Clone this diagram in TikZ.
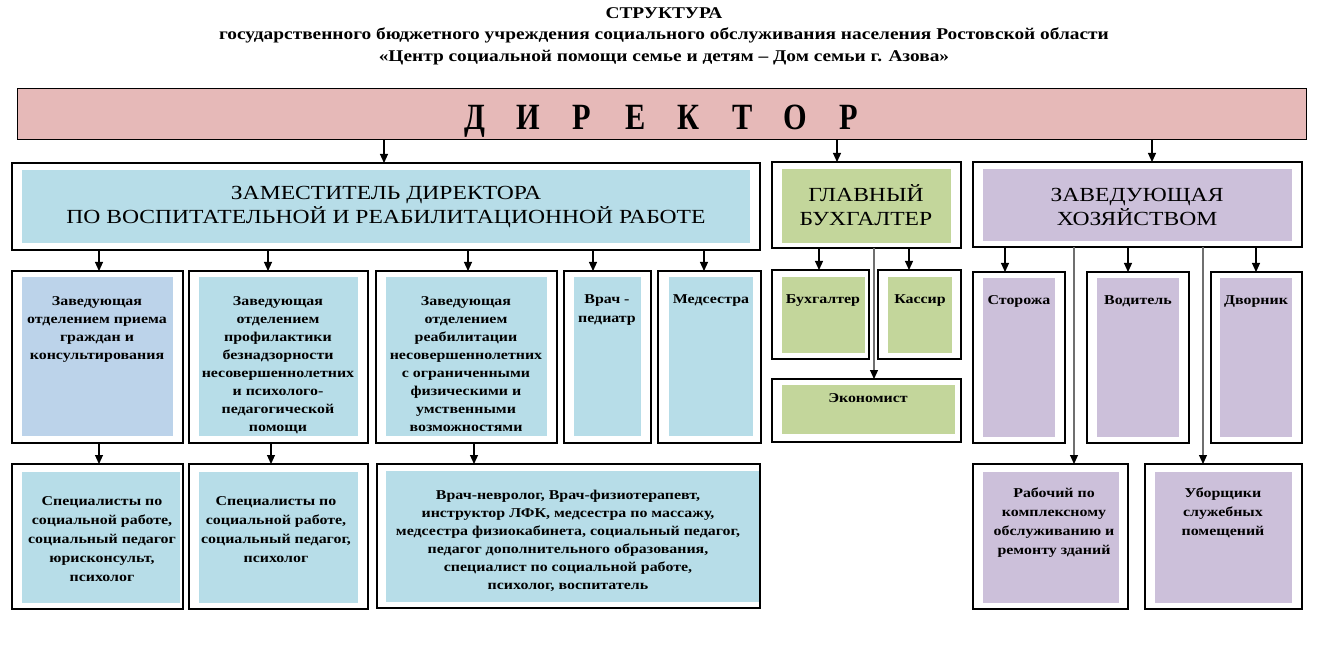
\documentclass[tikz,border=0pt]{standalone}
\usepackage{fontspec}
\setmainfont[FakeStretch=1.18]{Liberation Serif}
\newfontfamily\condfont[FakeStretch=0.82]{Liberation Serif}
\usetikzlibrary{arrows.meta}
\definecolor{pinkf}{HTML}{E6B9B8}
\definecolor{bluef}{HTML}{B7DDE8}
\definecolor{bluetwo}{HTML}{BCD3EA}
\definecolor{greenf}{HTML}{C3D69B}
\definecolor{purpf}{HTML}{CCC0DA}
\definecolor{linegray}{HTML}{6F6F6F}
\newcommand\outbox[5]{\node[obox,minimum width={#4-#2},minimum height={#5-#3}] (#1) at (#2,#3) {};}
\newcommand\inbox[6]{\node[ibox,fill=#6,minimum width={#4-#2},minimum height={#5-#3}] (#1) at (#2,#3) {};}
\begin{document}
\begin{tikzpicture}[x=1pt,y=-1pt,
  obox/.style={draw=black,fill=white,line width=1.1pt,anchor=north west,inner sep=0pt,outer sep=0pt},
  ibox/.style={draw=none,anchor=north west,inner sep=0pt,outer sep=0pt},
  txt/.style={align=center,inner sep=0pt,anchor=north,font=\bfseries\fontsize{13.5}{18}\selectfont},
  txtw/.style={align=center,inner sep=0pt,anchor=north,font=\bfseries\fontsize{13.5}{19}\selectfont},
  bigtxt/.style={align=center,inner sep=0pt,font=\fontsize{20}{24.5}\selectfont},
  arr/.style={line width=1.1pt,-{Triangle[width=8pt,length=9pt]}},
  garr/.style={line width=1.1pt,draw=linegray,-{Triangle[width=8pt,length=9pt,color=black,fill=black]}}]
\useasboundingbox (0,0) rectangle (1319,668);
\fill[white] (0,0) rectangle (1319,668);

% title
\node[font=\bfseries\fontsize{16.4}{21.5}\selectfont,align=center,anchor=north,inner sep=0pt] (title) at (664,7)
  {СТРУКТУРА\\государственного бюджетного учреждения социального обслуживания населения Ростовской области\\«Центр социальной помощи семье и детям – Дом семьи г. Азова»};

% director
\node[draw=black,fill=pinkf,line width=1.1pt,anchor=north west,inner sep=0pt,minimum width=1289,minimum height=51] (dir) at (17,88) {};
\node[font=\condfont\bfseries\fontsize{37}{40}\selectfont,inner sep=0pt,anchor=base] (dirt) at (662,130)
  {\makebox[53.5pt]{Д}\makebox[53.5pt]{И}\makebox[53.5pt]{Р}\makebox[53.5pt]{Е}\makebox[53.5pt]{К}\makebox[53.5pt]{Т}\makebox[53.5pt]{О}\makebox[53.5pt]{Р}};

% deputy
\outbox{dep}{12}{163}{760}{250}
\inbox{depi}{22}{170}{750}{243}{bluef}
\node[bigtxt] (dept) at (386,207) {ЗАМЕСТИТЕЛЬ ДИРЕКТОРА\\ПО ВОСПИТАТЕЛЬНОЙ И РЕАБИЛИТАЦИОННОЙ РАБОТЕ};

% chief accountant
\outbox{gb}{772}{162}{961}{248}
\inbox{gbi}{782}{169}{951}{243}{greenf}
\node[bigtxt] (gbt) at (866,205) {ГЛАВНЫЙ\\БУХГАЛТЕР};

% household head
\outbox{zh}{973}{162}{1302}{247}
\inbox{zhi}{983}{169}{1292}{241}{purpf}
\node[bigtxt] (zht) at (1137,207) {ЗАВЕДУЮЩАЯ\\ХОЗЯЙСТВОМ};

% row 2 (deputy)
\outbox{ba}{12}{271}{183}{443}
\inbox{bai}{22}{277}{173}{436}{bluetwo}
\node[txt] (bat) at (97,296) {Заведующая\\отделением приема\\граждан и\\консультирования};
\outbox{bb}{189}{271}{368}{443}
\inbox{bbi}{199}{277}{358}{436}{bluef}
\node[txt] (bbt) at (278,296) {Заведующая\\отделением\\профилактики\\безнадзорности\\несовершеннолетних\\и психолого-\\педагогической\\помощи};
\outbox{bc}{376}{271}{557}{443}
\inbox{bci}{386}{277}{547}{436}{bluef}
\node[txt] (bct) at (466,296) {Заведующая\\отделением\\реабилитации\\несовершеннолетних\\с ограниченными\\физическими и\\умственными\\возможностями};
\outbox{bd}{564}{271}{651}{443}
\inbox{bdi}{574}{277}{641}{436}{bluef}
\node[txtw] (bdt) at (607,294) {Врач -\\педиатр};
\outbox{be}{658}{271}{761}{443}
\inbox{bei}{669}{277}{753}{436}{bluef}
\node[txt] (bet) at (711,294) {Медсестра};

% row 3 (deputy)
\outbox{ca}{12}{464}{183}{609}
\inbox{cai}{22}{472}{180}{603}{bluef}
\node[txtw] (cat) at (102,496) {Специалисты по\\социальной работе,\\социальный педагог\\юрисконсульт,\\психолог};
\outbox{cb}{189}{464}{368}{609}
\inbox{cbi}{199}{472}{358}{603}{bluef}
\node[txtw] (cbt) at (276,496) {Специалисты по\\социальной работе,\\социальный педагог,\\психолог};
\outbox{cc}{377}{464}{760}{608}
\inbox{cci}{386}{471}{759}{602}{bluef}
\node[txt] (cct) at (568,490) {Врач-невролог, Врач-физиотерапевт,\\инструктор ЛФК, медсестра по массажу,\\медсестра физиокабинета, социальный педагог,\\педагог дополнительного образования,\\специалист по социальной работе,\\психолог, воспитатель};

% accountant subordinates
\outbox{bu}{772}{270}{869}{359}
\inbox{bui}{782}{277}{865}{353}{greenf}
\node[txt] (but) at (823,294) {Бухгалтер};
\outbox{ka}{878}{270}{961}{359}
\inbox{kai}{888}{277}{952}{353}{greenf}
\node[txt] (kat) at (920,294) {Кассир};
\outbox{ek}{772}{379}{961}{442}
\inbox{eki}{782}{385}{955}{434}{greenf}
\node[txt] (ekt) at (868,393) {Экономист};

% household subordinates
\outbox{st}{973}{272}{1065}{443}
\inbox{sti}{983}{278}{1055}{437}{purpf}
\node[txt] (stt) at (1019,295) {Сторожа};
\outbox{vo}{1087}{272}{1189}{443}
\inbox{voi}{1097}{278}{1179}{437}{purpf}
\node[txt] (vot) at (1138,295) {Водитель};
\outbox{dv}{1211}{272}{1302}{443}
\inbox{dvi}{1220}{278}{1292}{437}{purpf}
\node[txt] (dvt) at (1256,295) {Дворник};
\outbox{ra}{973}{464}{1128}{609}
\inbox{rai}{983}{472}{1119}{603}{purpf}
\node[txtw] (rat) at (1054,488) {Рабочий по\\комплексному\\обслуживанию и\\ремонту зданий};
\outbox{ub}{1145}{464}{1302}{609}
\inbox{ubi}{1155}{472}{1292}{603}{purpf}
\node[txtw] (ubt) at (1223,488) {Уборщики\\служебных\\помещений};

% connectors
\draw[arr] (dir.south -| 384,0) -- (dep.north -| 384,0);
\draw[arr] (dir.south -| 837,0) -- (gb.north -| 837,0);
\draw[arr] (dir.south -| 1152,0) -- (zh.north -| 1152,0);
\draw[arr] (dep.south -| 99,0) -- (ba.north -| 99,0);
\draw[arr] (dep.south -| 268,0) -- (bb.north -| 268,0);
\draw[arr] (dep.south -| 468,0) -- (bc.north -| 468,0);
\draw[arr] (dep.south -| 593,0) -- (bd.north -| 593,0);
\draw[arr] (dep.south -| 704,0) -- (be.north -| 704,0);
\draw[arr] (ba.south -| 99,0) -- (ca.north -| 99,0);
\draw[arr] (bb.south -| 271,0) -- (cb.north -| 271,0);
\draw[arr] (bc.south -| 474,0) -- (cc.north -| 474,0);
\draw[arr] (gb.south -| 819,0) -- (bu.north -| 819,0);
\draw[arr] (gb.south -| 909,0) -- (ka.north -| 909,0);
\draw[garr] (gb.south -| 874,0) -- (ek.north -| 874,0);
\draw[arr] (zh.south -| 1005,0) -- (st.north -| 1005,0);
\draw[arr] (zh.south -| 1128,0) -- (vo.north -| 1128,0);
\draw[arr] (zh.south -| 1256,0) -- (dv.north -| 1256,0);
\draw[garr] (zh.south -| 1074,0) -- (ra.north -| 1074,0);
\draw[garr] (zh.south -| 1203,0) -- (ub.north -| 1203,0);
\end{tikzpicture}
\end{document}
